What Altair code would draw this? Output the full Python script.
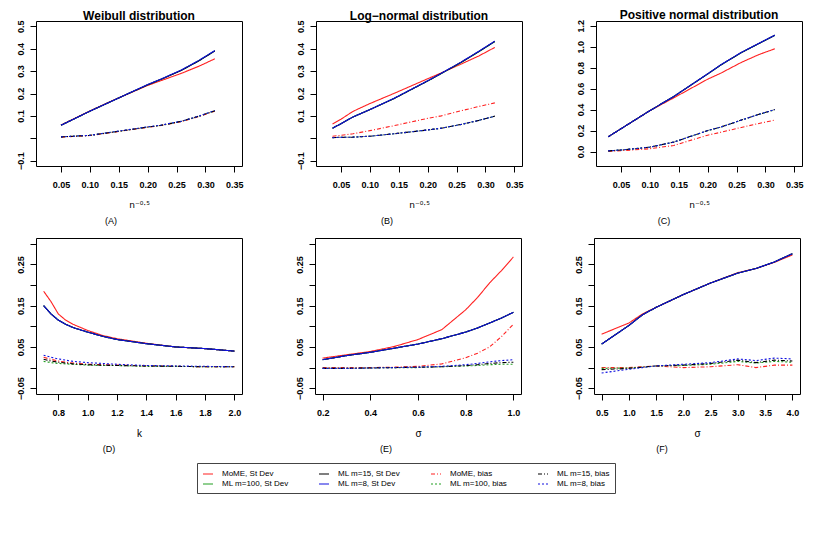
import altair as alt
import pandas as pd

# ---------------- series / legend definitions ----------------
SERIES = ["MoME, St Dev", "ML m=100, St Dev", "ML m=15, St Dev", "ML m=8, St Dev",
          "MoME, bias", "ML m=100, bias", "ML m=15, bias", "ML m=8, bias"]
COLOR_OF = {"MoME": "#ff2020", "ML m=100": "#22a022", "ML m=15": "#000000", "ML m=8": "#1010e0"}
SOLID = [1, 0]
DASHDOT = [4, 2, 1, 2]
DASHED = [2, 2]
DASH_OF = {"MoME, bias": DASHDOT, "ML m=100, bias": DASHED, "ML m=15, bias": DASHDOT, "ML m=8, bias": DASHED}

# ---------------- (A) Weibull vs n^-0.5 ----------------
A_x = [0.05, 0.0707, 0.1, 0.1414, 0.2, 0.2236, 0.2582, 0.2887, 0.3162]
A_mome_sd = [0.059, 0.085, 0.122, 0.171, 0.236, 0.258, 0.290, 0.322, 0.355]
A_ml100_sd = [0.058, 0.084, 0.121, 0.170, 0.239, 0.264, 0.304, 0.347, 0.391]
A_ml15_sd = [0.058, 0.084, 0.121, 0.170, 0.239, 0.264, 0.303, 0.346, 0.390]
A_ml8_sd = [0.058, 0.084, 0.121, 0.170, 0.240, 0.265, 0.305, 0.348, 0.392]
A_mome_bias = [0.005, 0.008, 0.012, 0.027, 0.049, 0.057, 0.074, 0.097, 0.121]
A_ml100_bias = [0.006, 0.009, 0.013, 0.028, 0.050, 0.058, 0.075, 0.098, 0.123]
A_ml15_bias = [0.006, 0.009, 0.013, 0.028, 0.050, 0.058, 0.076, 0.099, 0.123]
A_ml8_bias = [0.006, 0.009, 0.013, 0.029, 0.051, 0.059, 0.076, 0.099, 0.124]

# ---------------- (B) Log-normal vs n^-0.5 ----------------
B_x = [0.0354, 0.05, 0.0707, 0.1, 0.1414, 0.2, 0.2236, 0.2582, 0.2887, 0.3162]
B_mome_sd = [0.064, 0.085, 0.120, 0.155, 0.200, 0.266, 0.292, 0.332, 0.368, 0.406]
B_ml100_sd = [0.045, 0.065, 0.095, 0.128, 0.177, 0.256, 0.289, 0.339, 0.387, 0.432]
B_ml15_sd = [0.045, 0.065, 0.095, 0.128, 0.177, 0.256, 0.290, 0.340, 0.388, 0.433]
B_ml8_sd = [0.045, 0.065, 0.095, 0.128, 0.178, 0.257, 0.290, 0.341, 0.389, 0.434]
B_mome_bias = [0.009, 0.013, 0.020, 0.034, 0.056, 0.089, 0.100, 0.123, 0.142, 0.158]
B_ml100_bias = [0.003, 0.004, 0.005, 0.009, 0.020, 0.037, 0.045, 0.062, 0.080, 0.098]
B_ml15_bias = [0.003, 0.004, 0.005, 0.009, 0.020, 0.037, 0.045, 0.062, 0.080, 0.099]
B_ml8_bias = [0.003, 0.004, 0.005, 0.009, 0.020, 0.037, 0.045, 0.062, 0.080, 0.099]

# ---------------- (C) Positive normal vs n^-0.5 ----------------
C_x = [0.028, 0.05, 0.0707, 0.1, 0.1414, 0.2, 0.2236, 0.2582, 0.2887, 0.3162]
C_mome_sd = [0.141, 0.217, 0.289, 0.390, 0.512, 0.690, 0.750, 0.850, 0.925, 0.980]
C_ml100_sd = [0.141, 0.217, 0.289, 0.390, 0.525, 0.740, 0.828, 0.943, 1.030, 1.108]
C_ml15_sd = [0.141, 0.217, 0.289, 0.390, 0.525, 0.740, 0.829, 0.944, 1.031, 1.109]
C_ml8_sd = [0.141, 0.217, 0.289, 0.390, 0.525, 0.741, 0.830, 0.945, 1.032, 1.110]
C_mome_bias = [0.000, 0.008, 0.015, 0.027, 0.058, 0.156, 0.185, 0.230, 0.268, 0.300]
C_ml100_bias = [0.006, 0.015, 0.025, 0.042, 0.090, 0.199, 0.234, 0.299, 0.354, 0.399]
C_ml15_bias = [0.006, 0.015, 0.025, 0.042, 0.090, 0.200, 0.235, 0.300, 0.355, 0.400]
C_ml8_bias = [0.006, 0.015, 0.025, 0.042, 0.090, 0.200, 0.235, 0.300, 0.355, 0.400]

# ---------------- (D) Weibull vs k ----------------
D_x = [0.7, 0.75, 0.8, 0.85, 0.9, 1.0, 1.1, 1.2, 1.4, 1.6, 1.8, 2.0]
D_mome_sd = [0.185, 0.160, 0.130, 0.115, 0.105, 0.090, 0.078, 0.070, 0.059, 0.050, 0.046, 0.040]
D_ml100_sd = [0.150, 0.130, 0.115, 0.105, 0.097, 0.086, 0.076, 0.068, 0.058, 0.050, 0.046, 0.040]
D_ml15_sd = [0.150, 0.130, 0.115, 0.105, 0.097, 0.086, 0.076, 0.068, 0.058, 0.050, 0.046, 0.040]
D_ml8_sd = [0.150, 0.130, 0.115, 0.105, 0.097, 0.086, 0.076, 0.068, 0.058, 0.050, 0.046, 0.040]
D_mome_bias = [0.025, 0.020, 0.016, 0.013, 0.011, 0.008, 0.007, 0.006, 0.004, 0.003, 0.002, 0.002]
D_ml100_bias = [0.015, 0.012, 0.010, 0.009, 0.008, 0.006, 0.005, 0.005, 0.003, 0.003, 0.002, 0.002]
D_ml15_bias = [0.020, 0.016, 0.013, 0.011, 0.009, 0.007, 0.006, 0.005, 0.004, 0.003, 0.002, 0.002]
D_ml8_bias = [0.030, 0.025, 0.021, 0.018, 0.015, 0.012, 0.010, 0.008, 0.005, 0.004, 0.003, 0.002]

# ---------------- (E) Log-normal vs sigma ----------------
E_x = [0.2, 0.3, 0.4, 0.5, 0.6, 0.7, 0.8, 0.85, 0.9, 0.95, 1.0]
E_mome_sd = [0.023, 0.031, 0.039, 0.051, 0.068, 0.092, 0.140, 0.170, 0.205, 0.235, 0.268]
E_ml100_sd = [0.019, 0.029, 0.037, 0.047, 0.057, 0.070, 0.086, 0.096, 0.108, 0.120, 0.134]
E_ml15_sd = [0.019, 0.029, 0.037, 0.047, 0.057, 0.070, 0.086, 0.096, 0.108, 0.120, 0.134]
E_ml8_sd = [0.019, 0.029, 0.037, 0.047, 0.057, 0.070, 0.086, 0.096, 0.108, 0.120, 0.134]
E_mome_bias = [0.000, 0.000, 0.000, 0.001, 0.003, 0.009, 0.024, 0.035, 0.050, 0.075, 0.105]
E_ml100_bias = [-0.002, -0.002, -0.001, 0.000, 0.000, 0.002, 0.004, 0.005, 0.007, 0.008, 0.008]
E_ml15_bias = [-0.002, -0.002, -0.001, 0.000, 0.001, 0.002, 0.005, 0.007, 0.010, 0.012, 0.013]
E_ml8_bias = [-0.002, -0.002, -0.001, 0.000, 0.001, 0.003, 0.007, 0.010, 0.014, 0.017, 0.019]

# ---------------- (F) Positive normal vs sigma ----------------
F_x = [0.5, 1.0, 1.25, 1.5, 2.0, 2.5, 3.0, 3.33, 3.67, 4.0]
F_mome_sd = [0.081, 0.108, 0.130, 0.146, 0.177, 0.205, 0.230, 0.240, 0.255, 0.273]
F_ml100_sd = [0.057, 0.102, 0.128, 0.146, 0.177, 0.205, 0.229, 0.240, 0.256, 0.276]
F_ml15_sd = [0.057, 0.102, 0.128, 0.146, 0.177, 0.205, 0.229, 0.240, 0.256, 0.276]
F_ml8_sd = [0.057, 0.102, 0.128, 0.146, 0.177, 0.205, 0.229, 0.240, 0.256, 0.276]
F_mome_bias = [0.000, 0.000, 0.002, 0.004, 0.000, 0.002, 0.007, 0.000, 0.006, 0.006]
F_ml100_bias = [-0.002, -0.001, 0.001, 0.004, 0.005, 0.008, 0.015, 0.011, 0.015, 0.013]
F_ml15_bias = [-0.005, -0.002, 0.001, 0.004, 0.006, 0.010, 0.018, 0.012, 0.018, 0.016]
F_ml8_bias = [-0.013, -0.004, 0.000, 0.004, 0.008, 0.012, 0.021, 0.017, 0.023, 0.021]

TOP_TITLES = ["Weibull distribution", "Log\u2212normal distribution", "Positive normal distribution"]
TAGS = ["(A)", "(B)", "(C)", "(D)", "(E)", "(F)"]
X_TITLES = ["n\u207b\u2070\u00b7\u2075", "n\u207b\u2070\u00b7\u2075", "n\u207b\u2070\u00b7\u2075", "k", "\u03c3", "\u03c3"]

FONT = "Liberation Sans, Arial, sans-serif"
SUPFONT = "DejaVu Sans, Liberation Sans, sans-serif"
W = 206
H_TOP = 145
H_BOT = 156


def long_df(x, arrays):
    rows = []
    for name, vals in zip(SERIES, arrays):
        for xv, yv in zip(x, vals):
            rows.append({"x": xv, "y": yv, "series": name})
    return pd.DataFrame(rows)


legend = alt.Legend(
    title=None, orient="none", legendX=161, legendY=442, columns=4,
    symbolType="stroke", symbolSize=100, symbolStrokeWidth=1.2,
    labelFont=FONT, labelFontSize=8, labelColor="black", labelOffset=8,
    strokeColor="#444444", fillColor="white", padding=5, rowPadding=0,
    columnPadding=27, symbolLimit=0,
)
color_scale = alt.Scale(domain=SERIES, range=[COLOR_OF[s.split(",")[0]] for s in SERIES])
dash_scale = alt.Scale(domain=SERIES, range=[DASH_OF.get(s, SOLID) for s in SERIES])


def panel(x, arrays, xdom, xticks, xfmt, ydom, yticks, ylabexpr, xtitle, tag, tagx, h, title=None):
    df = long_df(x, arrays)
    if ylabexpr == "fives":
        lab = "abs(round(datum.value*100)) % 10 == 5 ? datum.label : ''"
        yfmt = ".2f"
    elif ylabexpr == "nozero":
        lab = "datum.value == 0 ? '' : datum.label"
        yfmt = ".1f"
    else:
        lab = "datum.label"
        yfmt = ".1f"
    xt_font = SUPFONT if title else FONT
    lines = alt.Chart(df).mark_line(strokeWidth=1.1, clip=True).encode(
        x=alt.X("x:Q", scale=alt.Scale(domain=xdom, nice=False, zero=False),
                axis=alt.Axis(values=xticks, format=xfmt, title=xtitle, titleFont=xt_font,
                              titleFontSize=9 if title else 10)),
        y=alt.Y("y:Q", scale=alt.Scale(domain=ydom, nice=False, zero=False),
                axis=alt.Axis(values=yticks, format=yfmt, labelExpr=lab, title=None)),
        color=alt.Color("series:N", scale=color_scale, legend=legend),
        strokeDash=alt.StrokeDash("series:N", scale=dash_scale, legend=legend),
        order=alt.Order("ord:Q"),
    ).transform_calculate(
        ord="indexof(" + str(SERIES) + ", datum.series)"
    )
    tagtxt = alt.Chart(pd.DataFrame({"t": [tag]})).mark_text(
        font=FONT, fontSize=9, color="black", baseline="middle"
    ).encode(text="t:N", x=alt.value(tagx), y=alt.value(h + 55))
    ch = alt.layer(lines, tagtxt).properties(width=W, height=h)
    if title:
        ch = ch.properties(title=alt.Title(title, font=FONT, fontSize=12, fontWeight="bold",
                                           color="black", offset=-3, frame="group", anchor="middle"))
    return ch


top_x = [0.05, 0.10, 0.15, 0.20, 0.25, 0.30, 0.35]
top_xdom = [0.0068, 0.3632]
ab_yt = [-0.1, 0.0, 0.1, 0.2, 0.3, 0.4, 0.5]
bot_yt = [-0.05, 0.0, 0.05, 0.10, 0.15, 0.20, 0.25, 0.30]
bot_ydom = [-0.064, 0.314]

pA = panel(A_x, [A_mome_sd, A_ml100_sd, A_ml15_sd, A_ml8_sd, A_mome_bias, A_ml100_bias, A_ml15_bias, A_ml8_bias],
           top_xdom, top_x, ".2f", [-0.124, 0.524], ab_yt, "nozero", X_TITLES[0], TAGS[0], 75, H_TOP, TOP_TITLES[0])
pB = panel(B_x, [B_mome_sd, B_ml100_sd, B_ml15_sd, B_ml8_sd, B_mome_bias, B_ml100_bias, B_ml15_bias, B_ml8_bias],
           top_xdom, top_x, ".2f", [-0.124, 0.524], ab_yt, "nozero", X_TITLES[1], TAGS[1], 71, H_TOP, TOP_TITLES[1])
pC = panel(C_x, [C_mome_sd, C_ml100_sd, C_ml15_sd, C_ml8_sd, C_mome_bias, C_ml100_bias, C_ml15_bias, C_ml8_bias],
           top_xdom, top_x, ".2f", [-0.138, 1.245], [0.0, 0.2, 0.4, 0.6, 0.8, 1.0, 1.2], "all",
           X_TITLES[2], TAGS[2], 68, H_TOP, TOP_TITLES[2])
pD = panel(D_x, [D_mome_sd, D_ml100_sd, D_ml15_sd, D_ml8_sd, D_mome_bias, D_ml100_bias, D_ml15_bias, D_ml8_bias],
           [0.648, 2.052], [0.8, 1.0, 1.2, 1.4, 1.6, 1.8, 2.0], ".1f", bot_ydom, bot_yt, "fives",
           X_TITLES[3], TAGS[3], 73, H_BOT)
pE = panel(E_x, [E_mome_sd, E_ml100_sd, E_ml15_sd, E_ml8_sd, E_mome_bias, E_ml100_bias, E_ml15_bias, E_ml8_bias],
           [0.168, 1.032], [0.2, 0.4, 0.6, 0.8, 1.0], ".1f", bot_ydom, bot_yt, "fives",
           X_TITLES[4], TAGS[4], 71, H_BOT)
pF = panel(F_x, [F_mome_sd, F_ml100_sd, F_ml15_sd, F_ml8_sd, F_mome_bias, F_ml100_bias, F_ml15_bias, F_ml8_bias],
           [0.36, 4.14], [0.5, 1.0, 1.5, 2.0, 2.5, 3.0, 3.5, 4.0], ".1f", bot_ydom, bot_yt, "fives",
           X_TITLES[5], TAGS[5], 68, H_BOT)

top = alt.hconcat(pA, pB, pC, spacing=49)
bot = alt.hconcat(pD, pE, pF, spacing=49)

chart = alt.vconcat(top, bot, spacing=10).resolve_scale(
    color="shared", strokeDash="shared"
).properties(
    padding={"left": 5, "top": 0, "right": 5, "bottom": 5}
).configure_view(
    stroke="black", strokeWidth=1
).configure_axis(
    domain=False, grid=False, ticks=True, tickColor="black", tickSize=6, tickWidth=1,
    labelFont=FONT, labelFontSize=9, labelFontWeight="bold", labelColor="black",
    titleFont=FONT, titleFontSize=10, titleFontWeight="normal", titleColor="black",
    labelOverlap=False,
).configure_axisX(
    labelPadding=8, titlePadding=11,
).configure_axisY(
    labelAngle=270, labelPadding=5, minExtent=22, maxExtent=22,
)

chart.save("out.html", embed_options={"renderer": "svg", "actions": False})
